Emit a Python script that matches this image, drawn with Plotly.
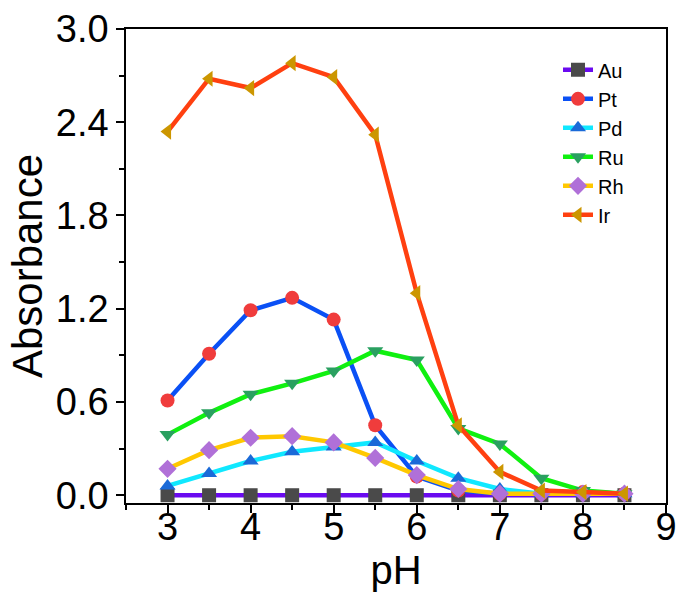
import plotly.graph_objects as go

ph = [3, 3.5, 4, 4.5, 5, 5.5, 6, 6.5, 7, 7.5, 8, 8.5]

au = [0.0, 0.0, 0.0, 0.0, 0.0, 0.0, 0.0, 0.0, 0.0, 0.0, 0.0, 0.0]
pt = [0.61, 0.91, 1.19, 1.27, 1.13, 0.45, 0.12, 0.03, 0.01, 0.01, 0.02, 0.01]
pd_ = [0.06, 0.14, 0.22, 0.28, 0.31, 0.34, 0.22, 0.11, 0.04, 0.01, 0.01, 0.01]
ru = [0.39, 0.53, 0.65, 0.72, 0.80, 0.93, 0.87, 0.43, 0.33, 0.11, 0.03, 0.01]
rh = [0.17, 0.29, 0.37, 0.38, 0.34, 0.24, 0.13, 0.04, 0.01, 0.01, 0.01, 0.01]
ir = [2.34, 2.68, 2.62, 2.78, 2.69, 2.32, 1.30, 0.45, 0.15, 0.03, 0.02, 0.01]

series = [
    ("Au", au, "#6a0af0", "#4a4a4a", "square"),
    ("Pt", pt, "#0a50f5", "#f03c3c", "circle"),
    ("Pd", pd_, "#10e8ff", "#1a6ad8", "triangle-up"),
    ("Ru", ru, "#10f010", "#2aa060", "triangle-down"),
    ("Rh", rh, "#ffc800", "#b070d8", "diamond"),
    ("Ir", ir, "#ff4010", "#cc9600", "triangle-left"),
]

fig = go.Figure()
for name, vals, line_c, mark_c, sym in series:
    fig.add_trace(go.Scatter(
        x=ph, y=vals, name=name, mode="lines+markers",
        line=dict(color=line_c, width=4.5),
        marker=dict(color=mark_c, symbol=sym, size=14, line=dict(width=0)),
    ))

font = "Liberation Sans, Arial, sans-serif"
fig.update_layout(
    width=678, height=597,
    margin=dict(l=126, r=12, t=29, b=94),
    paper_bgcolor="white", plot_bgcolor="white",
    font=dict(family=font, color="black", size=24),
    legend=dict(x=0.8, y=0.955, xanchor="left", yanchor="top",
                font=dict(size=20), bgcolor="rgba(0,0,0,0)",
                itemwidth=30, tracegroupgap=0),
)
fig.update_xaxes(
    range=[2.5, 9], dtick=1, tick0=3, automargin=False,
    showline=True, linecolor="black", linewidth=1.5, mirror=True,
    ticks="outside", ticklen=8, tickcolor="black", tickwidth=1.5,
    minor=dict(dtick=0.5, ticks="outside", ticklen=5, tickcolor="black", tickwidth=1.5),
    showgrid=False, zeroline=False,
    tickfont=dict(size=38), ticklabelstandoff=-18,
    title=dict(text="pH", font=dict(size=40), standoff=0),
)
fig.update_yaxes(
    range=[-0.05, 3.0], dtick=0.6, tick0=0, tickformat=".1f", automargin=False,
    showline=True, linecolor="black", linewidth=1.5, mirror=True,
    ticks="outside", ticklen=8, tickcolor="black", tickwidth=1.5,
    minor=dict(dtick=0.3, ticks="outside", ticklen=5, tickcolor="black", tickwidth=1.5),
    showgrid=False, zeroline=False,
    tickfont=dict(size=38),
    title=dict(text="Absorbance", font=dict(size=42), standoff=0),
)

# drop the default 8px body margin so the figure fills the window
fig.write_html("out.html", config={"displayModeBar": False},
               post_script="document.body.style.margin='0';")
